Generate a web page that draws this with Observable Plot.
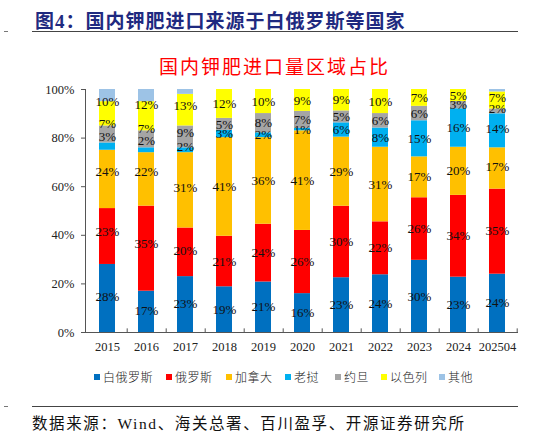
<!DOCTYPE html>
<html>
<head>
<meta charset="utf-8">
<script src="https://cdn.jsdelivr.net/npm/d3@7"></script>
<script src="https://cdn.jsdelivr.net/npm/@observablehq/plot@0.6"></script>
<style>
  body { margin: 0; width: 549px; height: 436px; position: relative; background: #fff; overflow: hidden;
         font-family: 'Liberation Serif', 'Noto Sans CJK SC', serif; }
  .abs { position: absolute; }
  #title { left: 35px; top: 6px; font-size: 19px; font-weight: bold; color: #1f2a80; letter-spacing: 1px;
           font-family: 'Liberation Serif', 'Noto Sans CJK SC', serif; white-space: nowrap; }
  .hr { left: 32px; width: 486px; height: 0; border-top: 1px solid #444; }
  .dash { left: 4px; width: 4px; height: 0; border-top: 1px solid #777; }
  #subtitle { left: 0; width: 549px; top: 52px; text-align: center; font-size: 19px; color: #ff0000;
              letter-spacing: 2px; font-family: 'Noto Sans CJK SC', sans-serif; font-weight: 400; }
  #chart { left: 0; top: 78px; }
  #legend { left: 0; top: 368px; width: 549px; height: 20px; font-size: 12px; letter-spacing: 0.5px;
            font-family: 'Noto Sans CJK SC', sans-serif; font-weight: 300; color: #222; }
  #legend div { position: absolute; top: 0; white-space: nowrap; }
  #legend span.sw { display: inline-block; width: 6px; height: 6px; margin-right: 3px; vertical-align: 2px; }
  #source { left: 32px; top: 411px; font-size: 15.5px; color: #111; white-space: nowrap; letter-spacing: 1.6px; }
</style>
</head>
<body>
<div id="title" class="abs">图4：国内钾肥进口来源于白俄罗斯等国家</div>
<div class="abs hr" style="top:31px"></div>
<div class="abs dash" style="top:31px"></div>
<div id="subtitle" class="abs">国内钾肥进口量区域占比</div>
<div id="chart" class="abs"></div>
<div id="legend" class="abs"></div>
<div class="abs hr" style="top:406px"></div>
<div class="abs dash" style="top:406px"></div>
<div id="source" class="abs">数据来源：Wind、海关总署、百川盈孚、开源证券研究所</div>
<script>
const years = ['2015', '2016', '2017', '2018', '2019', '2020', '2021', '2022', '2023', '2024', '202504']
const sources = ['白俄罗斯', '俄罗斯', '加拿大', '老挝', '约旦', '以色列', '其他']
const colors = ['#0070c0', '#ff0000', '#ffc000', '#00b0f0', '#a5a5a5', '#ffff00', '#9dc3e6']

// 各来源占比（%）
const belarus = [28, 17, 23, 19, 21, 16, 23, 24, 30, 23, 24]
const russia  = [23, 35, 20, 21, 24, 26, 30, 22, 26, 34, 35]
const canada  = [24, 22, 31, 41, 36, 41, 29, 31, 17, 20, 17]
const laos    = [3, 2, 2, 3, 2, 1, 6, 8, 15, 16, 14]
const jordan  = [7, 7, 9, 5, 8, 7, 5, 6, 6, 3, 2]
const israel  = [10, 12, 13, 12, 10, 9, 9, 10, 7, 5, 7]
const other   = [5, 5, 2, 0, 0, 0, 0, 0, 0, 0, 1]

const series = [belarus, russia, canada, laos, jordan, israel, other]

const data = []
series.forEach((vals, i) => {
  vals.forEach((v, j) => data.push({year: years[j], source: sources[i], value: v}))
})

const stackOpts = {x: 'year', y: 'value', z: 'source', order: sources, offset: 'normalize'}

let chart = Plot.plot({
  width: 549,
  height: 283,
  marginLeft: 85,
  marginRight: 31,
  marginTop: 11,
  marginBottom: 29,
  style: {fontFamily: "'Liberation Serif', 'Times New Roman', serif", fontSize: '12.5px', color: '#222'},
  x: {domain: years, paddingInner: 0.6, paddingOuter: 0.3, label: null},
  y: {domain: [0, 1], label: null},
  color: {domain: sources, range: colors},
  marks: [
    Plot.barY(data, Plot.stackY({...stackOpts, fill: 'source'})),
    Plot.text(data, Plot.stackY({
      ...stackOpts,
      text: d => d.value + '%',
      filter: d => d.source !== '其他' && d.value > 0,
      fill: '#111',
      fontSize: 13
    })),
    Plot.axisY({ticks: [0, 0.2, 0.4, 0.6, 0.8, 1], tickFormat: d3.format('.0%'),
      tickSize: 4, tickPadding: 7, stroke: '#555', fontSize: 12.5, label: null}),
    Plot.axisX({tickSize: 0, tickPadding: 10, fontSize: 12.5, label: null}),
    Plot.frame({anchor: 'left', stroke: '#555'}),
    Plot.ruleY([0], {stroke: '#555'}),
    // separadores de categoría en el eje x
    Plot.ruleX(years, {x: d => d, y1: 0, y2: 0.015, dx: 19.7, stroke: '#555'})
  ]
})

d3.select('#chart').append(() => chart)

// posiciones horizontales de la leyenda (px)
const legendX = [94, 166, 226, 285, 335, 381, 439]
const legend = d3.select('#legend')
sources.forEach((s, i) => {
  const item = legend.append('div').style('left', legendX[i] + 'px')
  item.append('span').attr('class', 'sw').style('background', colors[i])
  item.append('span').text(s)
})
</script>
</body>
</html>
